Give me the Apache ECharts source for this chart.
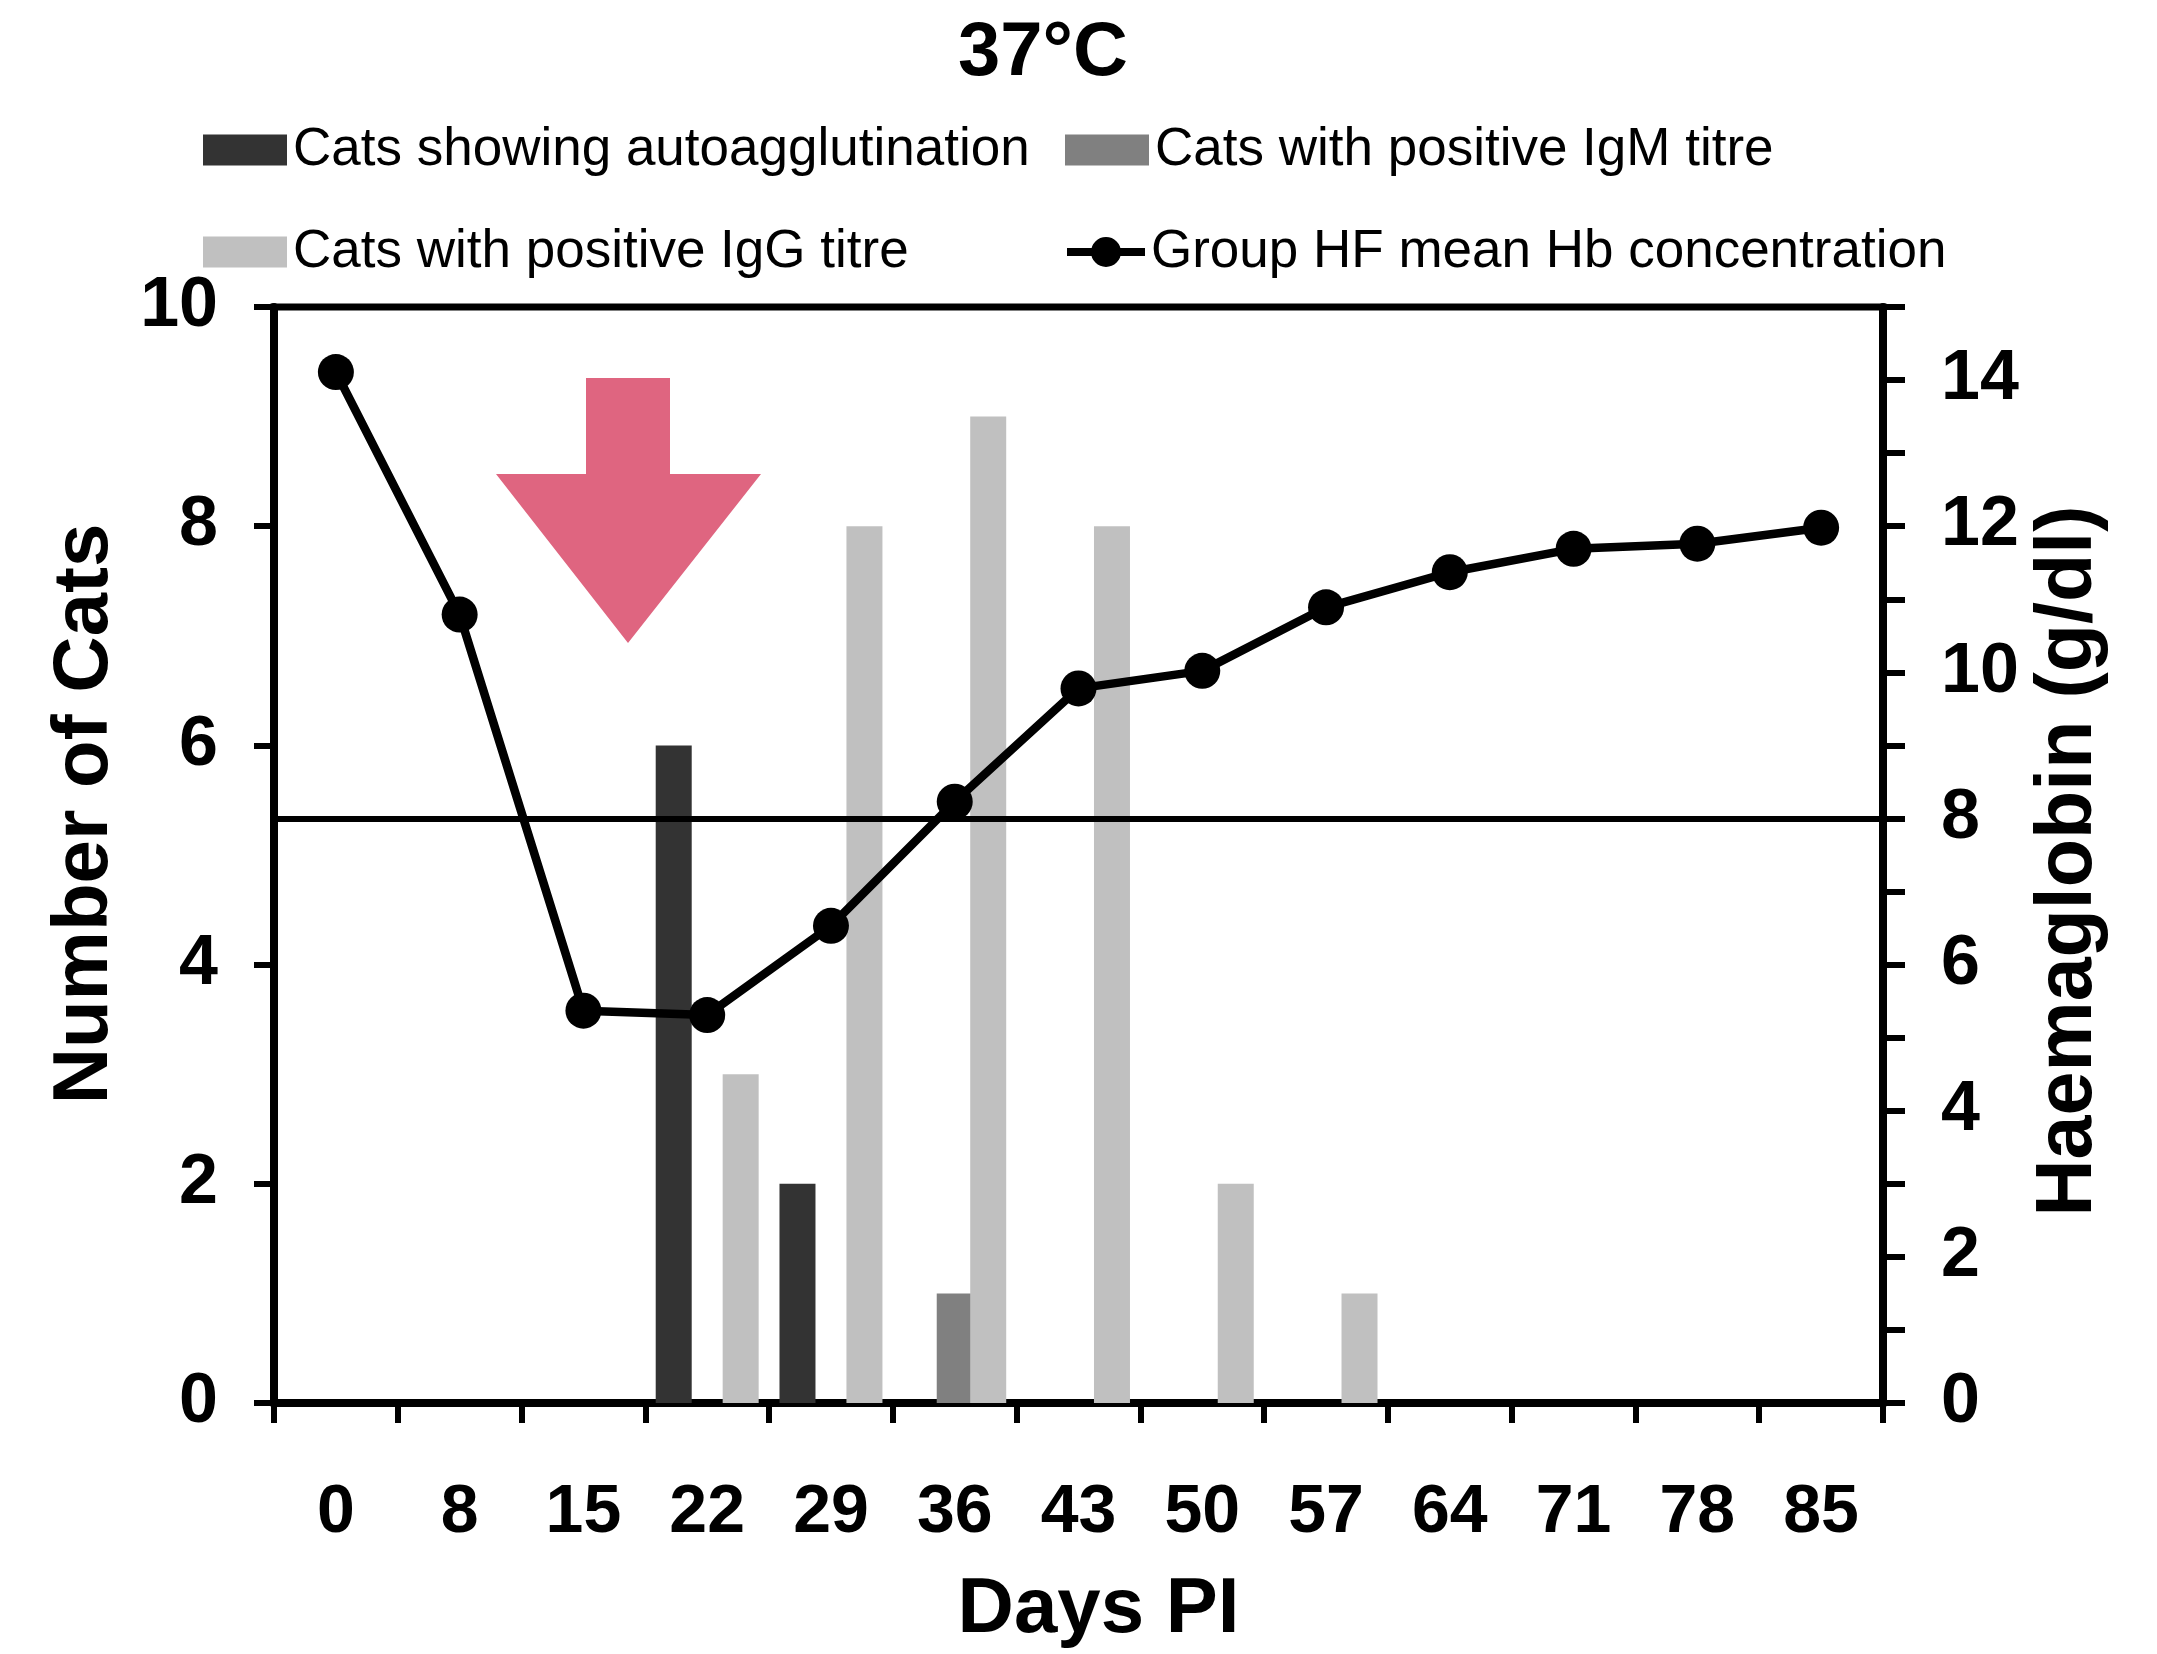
<!DOCTYPE html>
<html>
<head>
<meta charset="utf-8">
<script src="https://cdn.jsdelivr.net/npm/echarts@6/dist/echarts.min.js"></script>
<style>
html,body{margin:0;padding:0;background:#fff;}
#chart{width:2157px;height:1654px;}
</style>
</head>
<body>
<div id="chart"></div>
<script>
// ---- data ----
const days = ['0','8','15','22','29','36','43','50','57','64','71','78','85'];
const autoagglutination = [0,0,0,6,2,0,0,0,0,0,0,0,0];
const igmPositive = [0,0,0,0,0,1,0,0,0,0,0,0,0];
const iggPositive = [0,0,0,3,8,9,8,2,1,0,0,0,0];
const hbMean = [14.11,10.79,5.37,5.31,6.53,8.23,9.78,10.02,10.89,11.37,11.69,11.76,11.98];
const hbThreshold = 8;
const leftTicks = {min:0, max:10, interval:2};
const rightTicks = {min:0, max:15, interval:1};

const names = {
  auto: 'Cats showing autoagglutination',
  igm: 'Cats with positive IgM titre',
  igg: 'Cats with positive IgG titre',
  hb: 'Group HF mean Hb concentration'
};
const colors = {auto:'#333333', igm:'#808080', igg:'#c0c0c0', hb:'#000000'};

const FONT = '"Liberation Sans", Arial, Helvetica, sans-serif';
const chart = echarts.init(document.getElementById('chart'), null, {renderer:'canvas'});

// legend icon for the line series: a thick line with a dot in the middle
const LINE_DOT_ICON = 'path://M0,11 L78,11 L78,19 L0,19 Z M24,15 A15,15 0 1,1 54,15 A15,15 0 1,1 24,15 Z';

function legendAt(name, color, left, top, isLine){
  const lg = {
    data:[{name:name, icon: isLine ? LINE_DOT_ICON : 'rect', itemStyle:{color:color, borderWidth:0}}],
    left:left, top:top, padding:0, orient:'horizontal',
    itemWidth: isLine ? 78 : 84, itemHeight: isLine ? 30 : 31, itemGap:0,
    selectedMode:false,
    textStyle:{fontFamily:FONT, fontSize:53, color:'#000', lineHeight:56, padding:[0,0,0,1]}
  };
  return lg;
}

const option = {
  backgroundColor:'#fff',
  animation:false,
  title:{
    text:'37°C', left:958, top:16, padding:0,
    textStyle:{fontFamily:FONT, fontSize:76, fontWeight:'bold', color:'#000'}
  },
  legend:[
    legendAt(names.auto, colors.auto, 203, 122),
    legendAt(names.igm, colors.igm, 1065, 122),
    legendAt(names.igg, colors.igg, 203, 224),
    legendAt(names.hb, colors.hb, 1067, 224, true)
  ],
  grid:{
    left:274, right:274, top:307, bottom:248,
    show:true, borderColor:'#000', borderWidth:7, backgroundColor:'transparent'
  },
  xAxis:{
    type:'category', data:days, boundaryGap:true,
    name:'Days PI', nameLocation:'middle', nameGap:168,
    nameTextStyle:{fontFamily:FONT, fontSize:78, fontWeight:'bold', color:'#000', padding:[0,0,0,40]},
    axisLine:{show:true, lineStyle:{color:'#000', width:8}},
    axisTick:{show:true, inside:false, length:20, lineStyle:{color:'#000', width:6}},
    axisLabel:{margin:76, fontFamily:FONT, fontSize:68, fontWeight:'bold', color:'#000'},
    splitLine:{show:false}
  },
  yAxis:[
    {
      type:'value', position:'left', min:leftTicks.min, max:leftTicks.max, interval:leftTicks.interval,
      name:'Number of Cats', nameLocation:'middle', nameGap:150, nameRotate:90,
      nameTextStyle:{fontFamily:FONT, fontSize:78, fontWeight:'bold', color:'#000', padding:[0,0,0,82]},
      axisLine:{show:true, lineStyle:{color:'#000', width:8}},
      axisTick:{show:true, length:20, lineStyle:{color:'#000', width:6}},
      axisLabel:{margin:56, fontFamily:FONT, fontSize:70, fontWeight:'bold', color:'#000'},
      splitLine:{show:false}
    },
    {
      type:'value', position:'right', min:rightTicks.min, max:rightTicks.max, interval:rightTicks.interval,
      name:'Haemaglobin (g/dl)', nameLocation:'middle', nameGap:145, nameRotate:90,
      nameTextStyle:{fontFamily:FONT, fontSize:79, fontWeight:'bold', color:'#000', padding:[0,12,0,0]},
      axisLine:{show:true, lineStyle:{color:'#000', width:8}},
      axisTick:{show:true, length:22, lineStyle:{color:'#000', width:6}},
      axisLabel:{margin:58, fontFamily:FONT, fontSize:70, fontWeight:'bold', color:'#000',
        formatter:function(v){ return (v % 2 === 0) ? String(v) : ''; }},
      splitLine:{show:false}
    }
  ],
  series:[
    {
      name:'threshold', type:'line', yAxisIndex:1, data:[], z:1, silent:true,
      markLine:{
        silent:true, symbol:'none', label:{show:false},
        lineStyle:{color:'#000', width:6, type:'solid'},
        data:[{yAxis:hbThreshold}]
      }
    },
    {
      name:names.auto, type:'bar', yAxisIndex:0, data:autoagglutination, z:2,
      barWidth:36, barGap:'-7%', itemStyle:{color:colors.auto}
    },
    {
      name:names.igm, type:'bar', yAxisIndex:0, data:igmPositive, z:2,
      barWidth:36, barGap:'-7%', itemStyle:{color:colors.igm}
    },
    {
      name:names.igg, type:'bar', yAxisIndex:0, data:iggPositive, z:2,
      barWidth:36, barGap:'-7%', itemStyle:{color:colors.igg}
    },
    {
      name:names.hb, type:'line', yAxisIndex:1, data:hbMean, z:5,
      symbol:'circle', symbolSize:36, showAllSymbol:true,
      lineStyle:{color:colors.hb, width:8.5}, itemStyle:{color:colors.hb}
    }
  ],
  graphic:[
    {
      type:'polygon', z:10, silent:true,
      shape:{points:[[586,378],[670,378],[670,474],[761,474],[628,643],[496,474],[586,474]]},
      style:{fill:'#df6580'}
    }
  ]
};
chart.setOption(option);
</script>
</body>
</html>
